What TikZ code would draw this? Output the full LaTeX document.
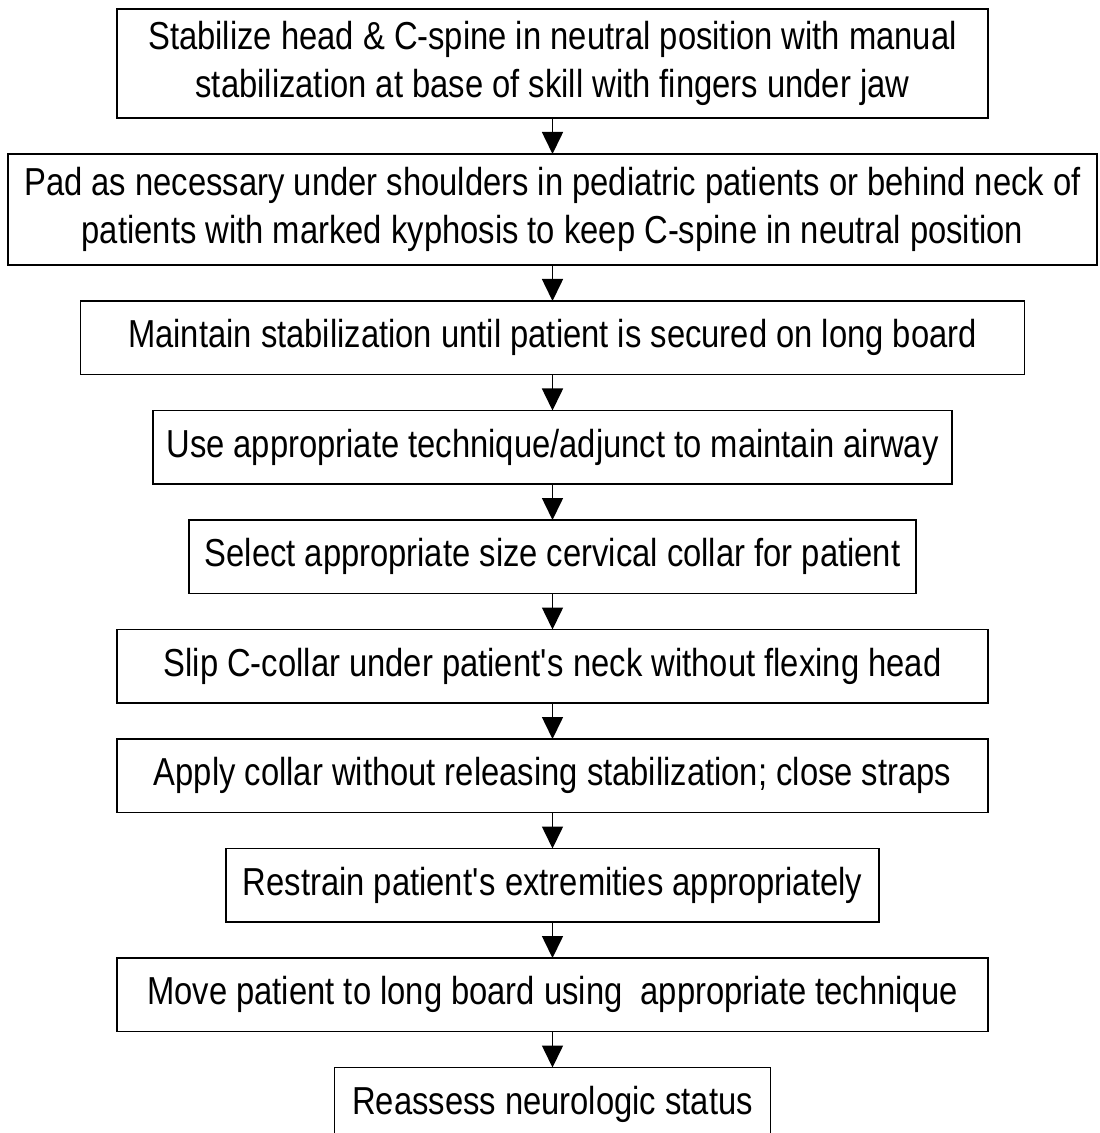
\documentclass[tikz,border=0pt]{standalone}
\usepackage{fontspec}
\setmainfont[FakeStretch=0.84]{Liberation Sans}
\usetikzlibrary{positioning, arrows.meta}

\begin{document}
\begin{tikzpicture}[x=0.5pt,y=-0.5pt,node distance=18pt,
  stage/.style={draw, line width=0.8pt, inner sep=0pt, outer sep=0pt, align=center,
    minimum height=36.75pt, font=\fontsize{19.5}{24}\selectfont}]
            \clip (0,0) rectangle (1099,1133);
            \node[stage, minimum width=435.5pt, minimum height=54.5pt, anchor=north] (s_1) at (552.5,9)
                {Stabilize head \& C-spine in neutral position with manual\\stabilization at base of skill with fingers under jaw};
            \node[stage, minimum width=544.5pt, minimum height=55.5pt] (s_2) [below=of s_1]
                {Pad as necessary under shoulders in pediatric patients or behind neck of\\patients with marked kyphosis to keep C-spine in neutral position};
            \node[stage, minimum width=472pt] (s_3) [below=of s_2] {Maintain stabilization until patient is secured on long board};
            \node[stage, minimum width=399.5pt] (s_4) [below=of s_3] {Use appropriate technique/adjunct to maintain airway};
            \node[stage, minimum width=363.5pt] (s_5) [below=of s_4] {Select appropriate size cervical collar for patient};
            \node[stage, minimum width=435.5pt] (s_6) [below=of s_5] {Slip C-collar under patient\textquotesingle s neck without flexing head};
            \node[stage, minimum width=435.5pt] (s_7) [below=of s_6] {Apply collar without releasing stabilization; close straps};
            \node[stage, minimum width=326.5pt] (s_8) [below=of s_7] {Restrain patient\textquotesingle s extremities appropriately};
            \node[stage, minimum width=435.5pt] (s_9) [below=of s_8] {Move patient to long board using\ \ appropriate technique};
            \node[stage, minimum width=218pt] (s_10) [below=of s_9] {Reassess neurologic status};
            \path[-{Triangle[length=11pt,width=10.5pt]}, line width=0.8pt]
            (s_1) edge (s_2)
            (s_2) edge (s_3)
            (s_3) edge (s_4)
            (s_4) edge (s_5)
            (s_5) edge (s_6)
            (s_6) edge (s_7)
            (s_7) edge (s_8)
            (s_8) edge (s_9)
            (s_9) edge (s_10);
        \end{tikzpicture}
\end{document}
